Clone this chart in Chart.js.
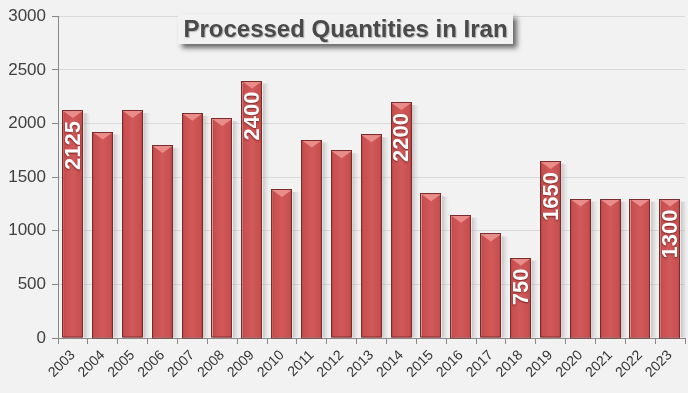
<!DOCTYPE html>
<html>
<head>
<meta charset="utf-8">
<script src="https://cdn.jsdelivr.net/npm/chart.js@4/dist/chart.umd.min.js"></script>
<style>
  html, body { margin: 0; padding: 0; background: #f2f2f2; }
  #wrap { width: 688px; height: 393px; position: relative; }
</style>
</head>
<body>
<div id="wrap"><canvas id="c" width="688" height="393"></canvas></div>
<script>
const chartTitle = 'Processed Quantities in Iran';
const years = ['2003','2004','2005','2006','2007','2008','2009','2010','2011','2012','2013','2014','2015','2016','2017','2018','2019','2020','2021','2022','2023'];
const quantities = [2125,1925,2125,1800,2100,2050,2400,1390,1850,1750,1900,2200,1350,1150,975,750,1650,1300,1300,1300,1300];
const labeledYears = ['2003','2009','2014','2018','2019','2023'];
const yMin = 0, yMax = 3000, yStep = 500;

const barDecor = {
  id: 'barDecor',
  beforeDatasetsDraw(chart) {
    const c = chart.ctx;
    const meta = chart.getDatasetMeta(0);
    c.save();
    meta.data.forEach(el => {
      const {x, y, base, width} = el.getProps(['x','y','base','width'], true);
      const r = x + width / 2;
      const g = c.createLinearGradient(r, 0, r + 7, 0);
      g.addColorStop(0, 'rgba(160,160,160,0.55)');
      g.addColorStop(1, 'rgba(200,200,200,0)');
      c.fillStyle = g;
      c.fillRect(r, y + 3, 7, base - y - 3);
    });
    c.restore();
  },
  afterDatasetsDraw(chart) {
    const c = chart.ctx;
    const meta = chart.getDatasetMeta(0);
    c.save();
    meta.data.forEach(el => {
      const {x, y, base, width} = el.getProps(['x','y','base','width'], true);
      const l = x - width / 2, r = x + width / 2;
      const g = c.createLinearGradient(l, 0, r, 0);
      g.addColorStop(0, '#a63a39');
      g.addColorStop(0.12, '#c94f4e');
      g.addColorStop(0.5, '#d0595a');
      g.addColorStop(0.88, '#c94f4e');
      g.addColorStop(1, '#9a3433');
      c.fillStyle = g;
      c.fillRect(l + 1, y + 1, width - 2, base - y - 1);
      c.beginPath();
      c.moveTo(l + 1, y + 1);
      c.lineTo(r - 1, y + 1);
      c.lineTo(x, y + 8);
      c.closePath();
      c.fillStyle = '#e98c8a';
      c.fill();
      c.strokeStyle = '#7c2b2b';
      c.lineWidth = 1;
      c.strokeRect(Math.round(l) + 0.5, Math.round(y) + 0.5, Math.round(width) - 1, Math.round(base - y) - 0.5);
    });
    c.font = 'bold 22px Arial, "Liberation Sans", sans-serif';
    c.fillStyle = '#ffffff';
    c.textAlign = 'right';
    c.textBaseline = 'middle';
    meta.data.forEach((el, i) => {
      if (!labeledYears.includes(years[i])) return;
      const {x, y} = el.getProps(['x','y'], true);
      c.save();
      c.translate(x + 1, y + 11);
      c.rotate(-Math.PI / 2);
      c.shadowColor = 'rgba(60,0,0,0.6)';
      c.shadowBlur = 2;
      c.shadowOffsetX = 0;
      c.shadowOffsetY = 1;
      c.fillText(String(quantities[i]), 0, 0);
      c.restore();
    });
    c.restore();
  },
  afterDraw(chart) {
    const c = chart.ctx;
    c.save();
    const bx = 178, by = 14, bw = 335, bh = 30;
    c.shadowColor = 'rgba(60,60,60,0.75)';
    c.shadowBlur = 5;
    c.shadowOffsetX = 4;
    c.shadowOffsetY = 4;
    c.fillStyle = '#f2f2f2';
    c.fillRect(bx, by, bw, bh);
    c.restore();
    c.save();
    c.font = 'bold 24px Arial, "Liberation Sans", sans-serif';
    c.textAlign = 'center';
    c.textBaseline = 'middle';
    c.fillStyle = '#4a4a4a';
    c.shadowColor = 'rgba(0,0,0,0.25)';
    c.shadowBlur = 1;
    c.shadowOffsetX = 1;
    c.shadowOffsetY = 1;
    c.fillText(chartTitle, bx + bw / 2, by + bh / 2 + 1);
    c.restore();
  }
};

new Chart(document.getElementById('c'), {
  type: 'bar',
  data: {
    labels: years,
    datasets: [{
      data: quantities,
      backgroundColor: 'rgba(0,0,0,0)',
      borderWidth: 0,
      barPercentage: 0.72,
      categoryPercentage: 1
    }]
  },
  options: {
    responsive: false,
    animation: false,
    devicePixelRatio: 1,
    layout: { padding: { top: 16, right: 3, left: 0, bottom: 0 } },
    plugins: { legend: { display: false }, tooltip: { enabled: false }, title: { display: false } },
    scales: {
      x: {
        grid: { display: true, drawOnChartArea: false, drawTicks: true, tickLength: 6, color: '#888888', offset: true },
        border: { display: true, color: '#888888' },
        ticks: {
          color: '#333333',
          font: { family: 'Arial, "Liberation Sans", sans-serif', size: 14 },
          maxRotation: 45, minRotation: 45, autoSkip: false, padding: 3
        },
        afterFit(scale) { scale.height = 55; }
      },
      y: {
        min: yMin, max: yMax,
        ticks: {
          stepSize: yStep,
          color: '#404040',
          font: { family: 'Arial, "Liberation Sans", sans-serif', size: 17 },
          padding: 6,
          callback: v => String(v)
        },
        grid: { color: '#d9d9d9', tickColor: '#888888', tickLength: 6 },
        border: { display: true, color: '#888888' },
        afterFit(scale) { scale.width = 58; }
      }
    }
  },
  plugins: [barDecor]
});
</script>
</body>
</html>
